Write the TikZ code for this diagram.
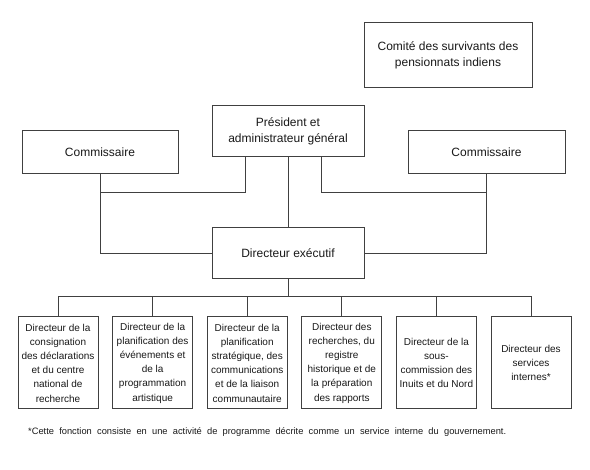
\documentclass[tikz,border=0pt]{standalone}
\usepackage{fontspec}
\setmainfont{Liberation Sans}
\usetikzlibrary{positioning,calc}
\definecolor{OrgTrait}{RGB}{64,64,64}
\definecolor{OrgTexte}{RGB}{25,25,25}
\tikzset{
  boite/.style={draw=OrgTrait, line width=1pt, fill=white, align=center,
                text=OrgTexte, inner sep=2pt, font=\fontsize{12}{16.5}\selectfont},
  boitedir/.style={boite, minimum width=80, minimum height=92,
                font=\fontsize{10}{14.2}\selectfont},
  trait/.style={draw=OrgTrait, line width=1pt},
  note/.style={font=\fontsize{9.3}{11}\selectfont, text=OrgTexte, inner sep=0pt},
}

\begin{document}
\begin{tikzpicture}[x=1pt,y=-1pt]
  \useasboundingbox (0,0) rectangle (590,470);

  % Haut de l'organigramme
  \node[boite, minimum width=168, minimum height=65] (comite) at (448,55.5)
    {Comité des survivants des\\pensionnats indiens};
  \node[boite, minimum width=152, minimum height=51] (pres) at (288,131.5)
    {Président et\\administrateur général};
  \node[boite, minimum width=156, minimum height=43] (comL) at (100,152.5) {Commissaire};
  \node[boite, minimum width=157, minimum height=43] (comR) at (486.5,152.5) {Commissaire};
  \node[boite, minimum width=152, minimum height=51] (de) at (288,253.5) {Directeur exécutif};

  % Liaisons
  \coordinate (jL) at ($(comL.south)+(0,18)$);
  \coordinate (jR) at ($(comR.south)+(0,18)$);
  \draw[trait] (comL.south) |- (de.west);
  \draw[trait] (comR.south) |- (de.east);
  \draw[trait] ([xshift=34]pres.south west) |- (jL);
  \draw[trait] ([xshift=-43]pres.south east) |- (jR);
  \draw[trait] (pres.south) -- (de.north);

  % Directeurs
  \foreach \i/\t in {
      1/{Directeur de la\\consignation\\des déclarations\\et du centre\\national de\\recherche},
      2/{Directeur de la\\planification des\\événements et\\de la\\programmation\\artistique},
      3/{Directeur de la\\planification\\stratégique, des\\communications\\et de la liaison\\communautaire},
      4/{Directeur des\\recherches, du\\registre\\historique et de\\la préparation\\des rapports},
      5/{Directeur de la\\sous-\\commission des\\Inuits et du Nord},
      6/{Directeur des\\services\\internes*}}
    \node[boitedir] (d\i) at ({58+94.6*(\i-1)},363) {\t};

  \coordinate (bus) at ($(de.south)+(0,17)$);
  \draw[trait] (de.south) -- (bus);
  \draw[trait] (bus -| d1.north) -- (bus -| d6.north);
  \foreach \i in {1,...,6}
    \draw[trait] (d\i.north) -- (d\i.north |- bus);

  % Note
  \node[note, anchor=west] (renvoi) at (28,432)
    {\makebox[478pt][s]{*Cette fonction consiste en une activité de programme décrite comme un service interne du gouvernement.}};
\end{tikzpicture}
\end{document}
